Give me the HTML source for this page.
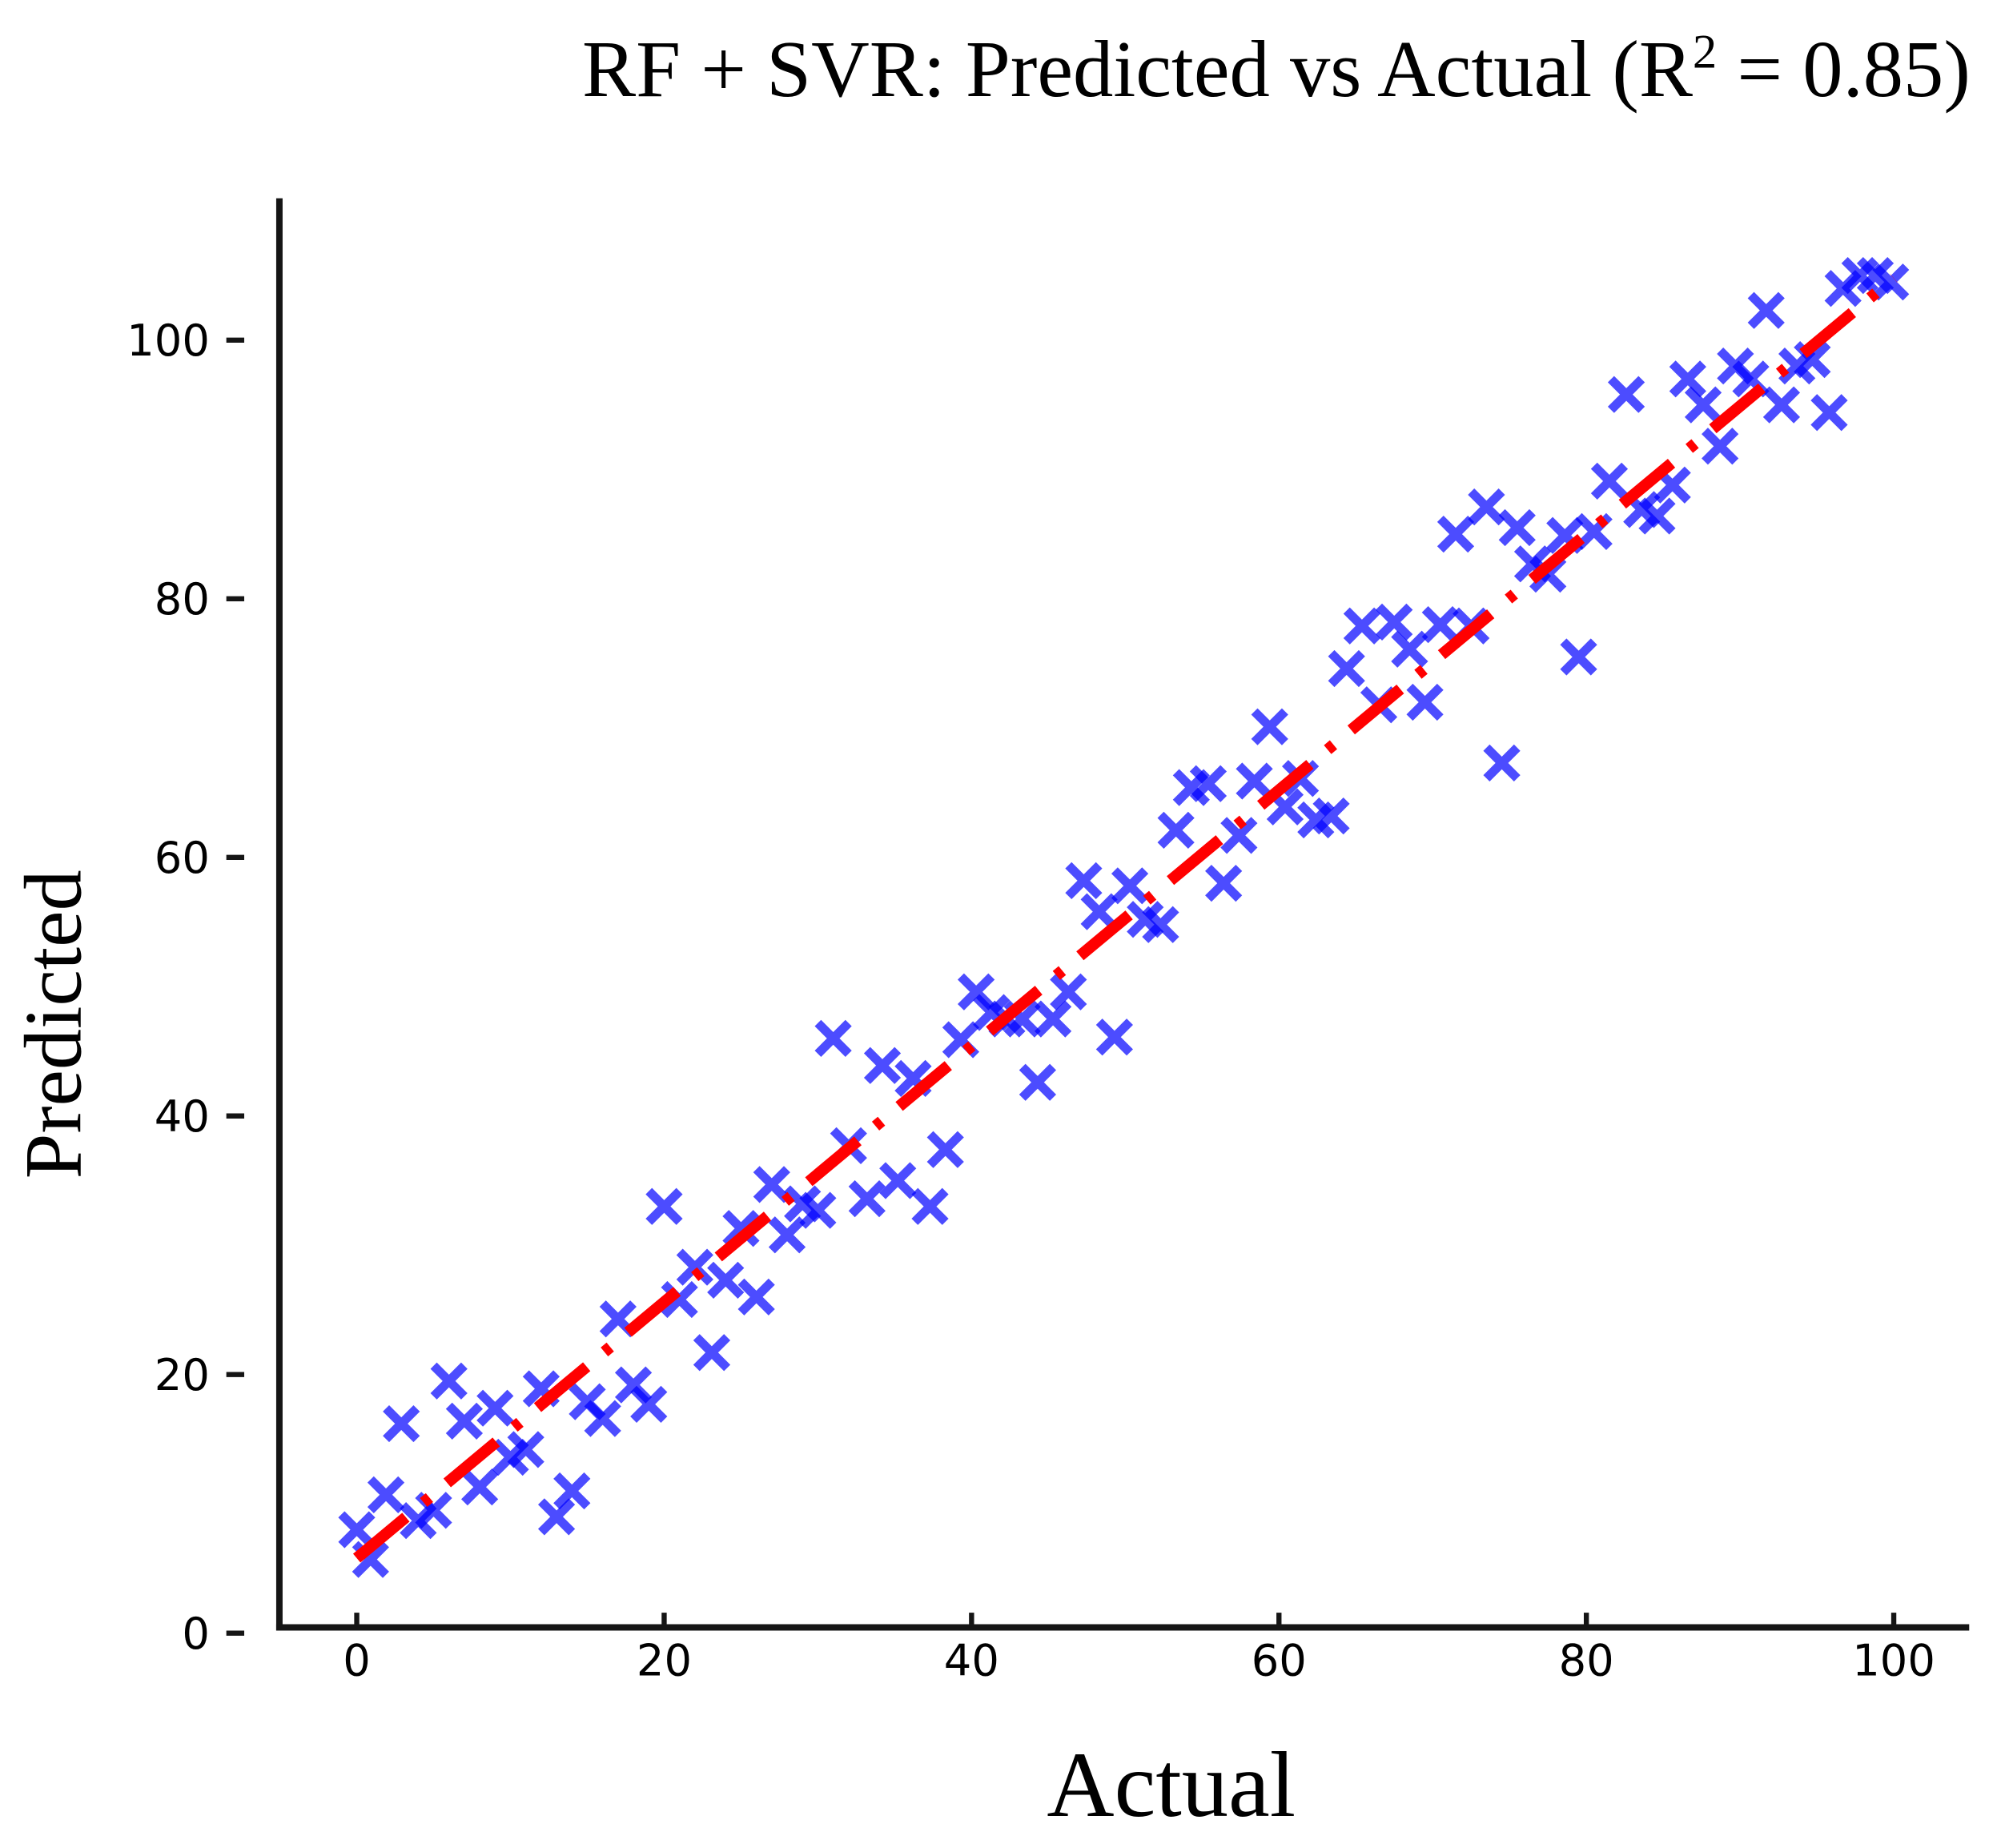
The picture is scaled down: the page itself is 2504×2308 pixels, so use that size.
<!DOCTYPE html>
<html><head><meta charset="utf-8"><style>html,body{margin:0;padding:0;background:#fff}svg{display:block}</style></head>
<body>
<svg id="chart" width="2504" height="2308" viewBox="0 0 1568 1445" preserveAspectRatio="none" xmlns="http://www.w3.org/2000/svg">
<rect width="1568" height="1445" fill="#fff"/>
<text x="1541" y="75" text-anchor="end" font-family="Liberation Serif, serif" font-size="63">RF + SVR: Predicted vs Actual (R<tspan dy="-22" font-size="38">2</tspan><tspan dy="22"> = 0.85)</tspan></text>
<text x="916" y="1420" text-anchor="middle" font-family="Liberation Serif, serif" font-size="73">Actual</text>
<text transform="translate(63,801) rotate(-90)" text-anchor="middle" font-family="Liberation Serif, serif" font-size="64">Predicted</text>
<g id="axes"></g>
<g id="marks"></g>
<line x1="218.5" y1="155" x2="218.5" y2="1275" stroke="#151515" stroke-width="5"/>
<line x1="216" y1="1272.5" x2="1540" y2="1272.5" stroke="#151515" stroke-width="5"/>
</svg>
<script>
const actual=[0,0.9,1.9,2.9,4,5,6,7,8,9,10,11,12,13,14,15,16,17,18,19,20,21,22,23.1,24,25,26,27,28,29,30,31,32,33.2,34.2,35.2,36.2,37.3,38.3,39.3,40.3,41.3,42.3,43.3,44.3,45.3,46.3,47.3,48.3,49.3,50.3,51.3,52.3,53.3,54.3,55.4,56.4,57.4,58.4,59.4,60.4,61.4,62.4,63.4,64.4,65.4,66.5,67.5,68.5,69.5,70.5,71.5,72.5,73.5,74.5,75.5,76.5,77.5,78.6,79.5,80.5,81.5,82.6,83.6,84.6,85.6,86.6,87.6,88.7,89.7,90.7,91.7,92.7,93.7,94.7,95.8,96.7,97.8,98.8,99.8];
const predicted=[8,5.7,10.7,16.2,8.7,9.5,19.5,16.4,11.3,17.4,13.6,14.2,18.9,9,11,17.9,16.6,24.3,19.2,17.7,33,25.8,28.3,21.7,27.3,31.3,26,34.7,30.8,33.2,32.7,46,37.7,33.6,43.9,35,42.9,33,37.4,45.9,49.6,48,47.5,47.5,42.6,47.5,49.6,58.2,55.8,46.1,57.8,55.2,54.8,62.1,65.4,65.7,58,61.7,65.9,70.1,63.9,66.1,62.9,63.2,74.6,77.9,71.8,78.2,76.1,72,78,85,77.9,87.1,67.3,85.5,82.7,81.9,84.9,75.5,85.2,89.1,95.8,86.9,86.4,88.8,97,95,91.8,98,97,102.3,95,98,98.5,94.4,104,105,105,104.5];
const xTicks=[0,20,40,60,80,100];
const yTicks=[0,20,40,60,80,100];
const fitSlope=0.99, fitIntercept=5.8;
const NS="http://www.w3.org/2000/svg";
const sx=v=>279+v*12.02, sy=v=>1277-v*10.11;
const axes=document.getElementById('axes'), marks=document.getElementById('marks');
function mk(tag,attrs,parent){const e=document.createElementNS(NS,tag);for(const k in attrs)e.setAttribute(k,attrs[k]);parent.appendChild(e);return e;}
xTicks.forEach(t=>{
  const l=mk('line',{x1:sx(t),x2:sx(t),y1:1261,y2:1270,stroke:'#151515','stroke-width':4},axes);
  
  
  const tx=mk('text',{x:sx(t),y:1310,'text-anchor':'middle','font-family':'DejaVu Sans, sans-serif','font-size':34},axes);
  tx.textContent=t;
  
  
});
yTicks.forEach(t=>{
  const l=mk('line',{x1:177,x2:191,y1:sy(t),y2:sy(t),stroke:'#151515','stroke-width':4},axes);
  
  
  const tx=mk('text',{x:164,y:sy(t)+12,'text-anchor':'end','font-family':'DejaVu Sans, sans-serif','font-size':34},axes);
  tx.textContent=t;
  
  
});
actual.forEach((a,i)=>{
  const cx=sx(a), cy=sy(predicted[i]), r=12;
  const g=mk('path',{d:`M${cx-r},${cy-r}L${cx+r},${cy+r}M${cx-r},${cy+r}L${cx+r},${cy-r}`,stroke:'#0000ff','stroke-opacity':0.7,'stroke-width':7,fill:'none'},marks);
  
  
});
const fit=mk('line',{x1:sx(0),y1:sy(fitIntercept),x2:sx(100),y2:sy(fitIntercept+fitSlope*100),stroke:'#ff0000','stroke-width':9,'stroke-dasharray':'50 18 6 18'},marks);


</script>
</body></html>
